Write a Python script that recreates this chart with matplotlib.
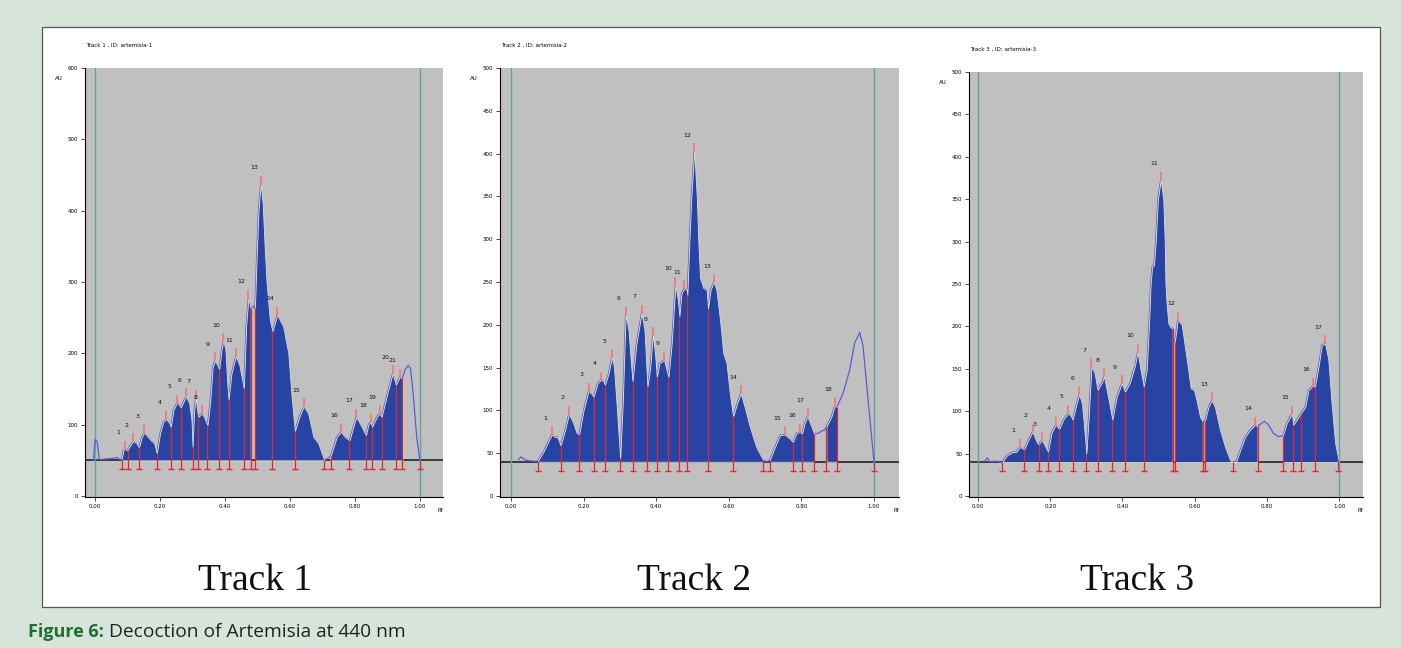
import numpy as np
import matplotlib
matplotlib.use("Agg")
import matplotlib.pyplot as plt
from matplotlib.patches import Rectangle

W, H = 1401, 648

# ---- Track 1 densitogram (Rf, AU) ----
rf1 = [
    -0.005, 0.000, 0.007, 0.013, 0.036, 0.051, 0.067, 0.077, 0.082, 0.087,
    0.093, 0.100, 0.108, 0.118, 0.128, 0.135, 0.144, 0.152, 0.161, 0.172,
    0.182, 0.190, 0.200, 0.210, 0.219, 0.229, 0.233, 0.241, 0.252, 0.259,
    0.264, 0.272, 0.280, 0.290, 0.297, 0.300, 0.305, 0.310, 0.315, 0.318,
    0.330, 0.340, 0.346, 0.354, 0.362, 0.369, 0.376, 0.382, 0.390, 0.395,
    0.401, 0.407, 0.411, 0.420, 0.433, 0.444, 0.453, 0.458, 0.465, 0.472,
    0.479, 0.487, 0.492, 0.497, 0.503, 0.510, 0.516, 0.522, 0.528, 0.538,
    0.546, 0.561, 0.579, 0.595, 0.605, 0.615, 0.628, 0.642, 0.656, 0.672,
    0.687, 0.705, 0.715, 0.725, 0.744, 0.757, 0.769, 0.783, 0.804, 0.821,
    0.834, 0.841, 0.848, 0.853, 0.867, 0.876, 0.882, 0.897, 0.916, 0.926,
    0.938, 0.946, 0.954, 0.964, 0.971, 0.979, 0.990, 1.000]
au1 = [
    50, 79, 76, 51, 52, 52.5, 54, 51, 52, 64,
    66, 64, 71, 77, 74, 68, 83, 89, 84, 78,
    74, 60, 88, 104, 108, 102, 97, 120, 131, 128,
    124, 132, 140, 130, 106, 69, 120, 138, 118, 111,
    116, 106, 99, 130, 181, 190, 184, 178, 207, 217,
    207, 158, 135, 172, 196, 184, 163, 151, 238, 278,
    263, 266, 263, 330, 400, 438, 410, 350, 299, 247,
    231, 254, 238, 200, 139, 91, 110, 126, 116, 83,
    74, 51, 52, 56, 83, 90, 83, 78, 111, 97,
    85, 100, 104, 97, 111, 116, 111, 139, 172, 156,
    167, 165, 177, 183, 179, 144, 83, 50]
peaks1 = [0.093, 0.118, 0.152, 0.219, 0.252, 0.280, 0.310, 0.330, 0.369, 0.395,
          0.433, 0.472, 0.510, 0.561, 0.642, 0.757, 0.804, 0.848, 0.876, 0.916, 0.938]
bounds1 = [0.082, 0.100, 0.135, 0.190, 0.233, 0.264, 0.300, 0.318, 0.346, 0.382,
           0.411, 0.458, 0.479, 0.492, 0.546, 0.615, 0.705, 0.725, 0.783, 0.834,
           0.853, 0.882, 0.926, 0.946, 1.000]
spans1 = [(0.082, 0.479), (0.492, 0.705), (0.725, 0.946)]

# ---- Track 2 ----
rf2 = [
    0.021, 0.028, 0.039, 0.053, 0.067, 0.074, 0.090, 0.100, 0.113, 0.122,
    0.128, 0.137, 0.149, 0.160, 0.172, 0.181, 0.188, 0.200, 0.214, 0.223,
    0.228, 0.239, 0.249, 0.255, 0.259, 0.269, 0.278, 0.284, 0.291, 0.301,
    0.308, 0.316, 0.324, 0.330, 0.335, 0.346, 0.360, 0.368, 0.376, 0.383,
    0.391, 0.397, 0.402, 0.409, 0.422, 0.429, 0.434, 0.443, 0.453, 0.460,
    0.464, 0.470, 0.478, 0.484, 0.486, 0.491, 0.497, 0.505, 0.512, 0.517,
    0.521, 0.530, 0.539, 0.543, 0.550, 0.559, 0.566, 0.576, 0.585, 0.594,
    0.603, 0.612, 0.623, 0.633, 0.644, 0.658, 0.676, 0.695, 0.704, 0.713,
    0.727, 0.741, 0.754, 0.768, 0.777, 0.786, 0.795, 0.802, 0.809, 0.817,
    0.828, 0.835, 0.846, 0.856, 0.864, 0.869, 0.883, 0.892, 0.898, 0.915,
    0.933, 0.947, 0.961, 0.970, 0.983, 1.000]
au2 = [
    42.6, 45.7, 42, 41, 40.6, 41, 52, 61, 72, 69,
    69, 59, 77, 96, 85, 74, 72, 100, 123, 119,
    116, 132, 136, 134, 130, 143, 162, 151, 108, 44,
    108, 212, 194, 159, 134, 179, 214, 194, 128, 147,
    188, 167, 139, 155, 159, 147, 139, 179, 247, 229,
    210, 237, 243, 241, 235, 290, 350, 403, 350, 290,
    255, 243, 241, 219, 241, 250, 241, 206, 167, 155,
    120, 93, 108, 120, 104, 81, 57, 42, 40, 42,
    57, 71, 72, 67, 63, 73, 75, 73, 85, 93,
    81, 73, 73, 76, 77, 81, 93, 106, 104, 120,
    147, 179, 191, 175, 116, 40]
peaks2 = [0.113, 0.160, 0.214, 0.249, 0.278, 0.316, 0.360, 0.391, 0.422, 0.453,
          0.478, 0.505, 0.559, 0.633, 0.754, 0.795, 0.817, 0.892]
bounds2 = [0.074, 0.137, 0.188, 0.228, 0.259, 0.301, 0.335, 0.376, 0.402, 0.434,
           0.464, 0.486, 0.543, 0.612, 0.695, 0.713, 0.777, 0.802, 0.835, 0.869,
           0.898, 1.000]
spans2 = [(0.074, 0.695), (0.713, 0.835), (0.869, 0.898)]

# ---- Track 3 ----
rf3 = [
    0.018, 0.026, 0.032, 0.046, 0.053, 0.060, 0.067, 0.080, 0.097, 0.106,
    0.116, 0.128, 0.139, 0.151, 0.162, 0.168, 0.177, 0.194, 0.203, 0.215,
    0.225, 0.236, 0.250, 0.259, 0.262, 0.273, 0.280, 0.288, 0.296, 0.300,
    0.307, 0.314, 0.323, 0.331, 0.342, 0.349, 0.360, 0.372, 0.384, 0.398,
    0.407, 0.420, 0.434, 0.442, 0.450, 0.459, 0.467, 0.474, 0.478, 0.482,
    0.487, 0.492, 0.498, 0.506, 0.513, 0.517, 0.519, 0.522, 0.527, 0.533,
    0.539, 0.541, 0.545, 0.553, 0.564, 0.573, 0.582, 0.589, 0.598, 0.605,
    0.615, 0.622, 0.628, 0.638, 0.647, 0.656, 0.670, 0.684, 0.698, 0.707,
    0.714, 0.726, 0.740, 0.753, 0.767, 0.774, 0.786, 0.793, 0.804, 0.818,
    0.832, 0.844, 0.855, 0.869, 0.873, 0.883, 0.893, 0.906, 0.915, 0.927,
    0.933, 0.943, 0.952, 0.961, 0.970, 0.979, 0.989, 0.998]
au3 = [
    41, 45, 40.5, 41, 41, 40, 40, 48, 52, 52,
    58, 55, 66, 76, 64, 61, 66, 52, 74, 84,
    79, 90, 98, 93, 90, 109, 120, 109, 70, 50,
    97, 153, 145, 125, 133, 141, 117, 90, 117, 133,
    123, 133, 153, 170, 149, 129, 149, 208, 251, 270,
    272, 300, 350, 373, 350, 300, 250, 228, 204, 199,
    198, 184, 182, 208, 202, 176, 149, 127, 125, 113,
    93, 88, 88, 105, 113, 105, 78, 58, 42, 40,
    40, 54, 70, 78, 84, 82, 86, 88, 84, 74,
    70, 71, 86, 97, 84, 90, 97, 105, 125, 130,
    129, 153, 178, 180, 161, 109, 62, 43]
peaks3 = [0.116, 0.151, 0.177, 0.215, 0.250, 0.280, 0.314, 0.349, 0.398, 0.442,
          0.506, 0.553, 0.647, 0.767, 0.869, 0.927, 0.961]
bounds3 = [0.067, 0.128, 0.168, 0.194, 0.225, 0.262, 0.300, 0.331, 0.372, 0.407,
           0.459, 0.539, 0.545, 0.622, 0.628, 0.707, 0.774, 0.844, 0.873, 0.893,
           0.933, 0.998]
spans3 = [(0.067, 0.539), (0.545, 0.622), (0.628, 0.707), (0.707, 0.774), (0.844, 0.998)]

titles = ["Track 1 , ID: artemisia-1", "Track 2 , ID: artemisia-2", "Track 3 , ID: artemisia-3"]
names = ["Track 1", "Track 2", "Track 3"]
baselines = [50, 40, 40]
ymaxes = [600, 500, 500]
ysteps = [100, 50, 50]

# panel boxes in pixels: left, right, top, bottom, xlim
boxes = [(85, 443, 68, 497, (-0.031, 1.071)),
         (500, 899, 68, 497, (-0.030, 1.069)),
         (969, 1363, 72, 497, (-0.025, 1.066))]
name_x = [255, 694, 1137]

fig = plt.figure(figsize=(W / 100, H / 100), dpi=100, facecolor="#d7e4da")

def fx(x):
    return x / W

def fy(y):
    return 1 - y / H

fig.patches.append(Rectangle((fx(42), fy(607)), fx(1380) - fx(42), fy(27) - fy(607),
                             transform=fig.transFigure, facecolor="white",
                             edgecolor="#555555", lw=0.9, zorder=-5))

fill_c = "#2744a4"
edge_c = "#ece6c6"
line_c = "#5a5ad8"
red_c = "#e3262b"
tick_c = "#f07c7c"

data = [(rf1, au1, peaks1, bounds1, spans1),
        (rf2, au2, peaks2, bounds2, spans2),
        (rf3, au3, peaks3, bounds3, spans3)]

for i, (rf, au, peaks, bounds, spans) in enumerate(data):
    left, right, top, bottom, xl = boxes[i]
    ymax = ymaxes[i]
    base = baselines[i]
    ax = fig.add_axes([fx(left), fy(bottom), fx(right) - fx(left), fy(top) - fy(bottom)])
    ax.set_zorder(1)
    ax.set_facecolor("#c0c0c0")
    ylo = -ymax * 1.0 / (bottom - top - 1)
    ax.set_ylim(ylo, ymax)
    ax.set_xlim(*xl)
    au_px = (ymax - ylo) / (bottom - top)

    rf = np.array(rf)
    au = np.array(au, dtype=float)

    ax.axhline(base, color="#3a3a3a", lw=1.4, zorder=1)
    ax.axvline(0, color="#5fa3a3", lw=1.0, zorder=1)
    ax.axvline(1, color="#5fa3a3", lw=1.0, zorder=1)

    ax.plot(rf, au, color=line_c, lw=0.9, zorder=2)
    for a, b in spans:
        inner = rf[(rf > a) & (rf < b)]
        xs = np.concatenate([[a], inner, [b]])
        ys = np.interp(xs, rf, au)
        ax.fill_between(xs, base, ys, facecolor=fill_c, edgecolor=edge_c, lw=0.6, zorder=3)

    # boundary lines with small feet under the baseline
    bh = np.interp(bounds, rf, au)
    ax.vlines(bounds, base - 9 * au_px, bh, color=red_c, lw=0.9, zorder=4)
    ax.plot(bounds, [base - 9 * au_px] * len(bounds), ls="none", marker="_",
            ms=4, mew=1.0, color=red_c, zorder=4)

    # peak tops and numbers
    ph = np.interp(peaks, rf, au)
    ax.vlines(peaks, ph - 1 * au_px, ph + 8 * au_px, color=tick_c, lw=1.3, zorder=5)
    for k, (p, h) in enumerate(zip(peaks, ph)):
        ax.annotate(str(k + 1), (p, h), xytext=(-5, 11.5), textcoords="offset points",
                    ha="center", va="center", fontsize=4.5, color="#111111", zorder=6)

    for s in ["top", "right"]:
        ax.spines[s].set_visible(False)
    for s in ["left", "bottom"]:
        ax.spines[s].set_linewidth(0.8)
    ax.set_yticks(np.arange(0, ymax + 1, ysteps[i]))
    ax.set_xticks([0, 0.2, 0.4, 0.6, 0.8, 1.0])
    ax.set_xticklabels(["0.00", "0.20", "0.40", "0.60", "0.80", "1.00"])
    ax.tick_params(length=3, width=0.5, labelsize=4, pad=2)

    fig.text(fx(left - 26), fy(top + 10), "AU", fontsize=4, ha="center", va="center")
    fig.text(fx(right - 3), fy(bottom + 14), "Rf", fontsize=4, ha="center", va="center")
    fig.text(fx(left + 1), fy(top - 23), titles[i], fontsize=4, ha="left", va="center")
    fig.text(fx(name_x[i]), fy(581), names[i], fontsize=27, family="Liberation Serif",
             ha="center", va="center", color="#111111")

t1 = fig.text(fx(28), fy(637), "Figure 6:", fontsize=13, fontweight="bold",
              color="#1f6f32", family="Open Sans", va="baseline")
fig.canvas.draw()
bb = t1.get_window_extent()
fig.text(fx(bb.x1 + 5), fy(637), "Decoction of Artemisia at 440 nm", fontsize=13.8,
         color="#222222", family="Open Sans", va="baseline")

plt.savefig("out.png", dpi=100, facecolor=fig.get_facecolor())
